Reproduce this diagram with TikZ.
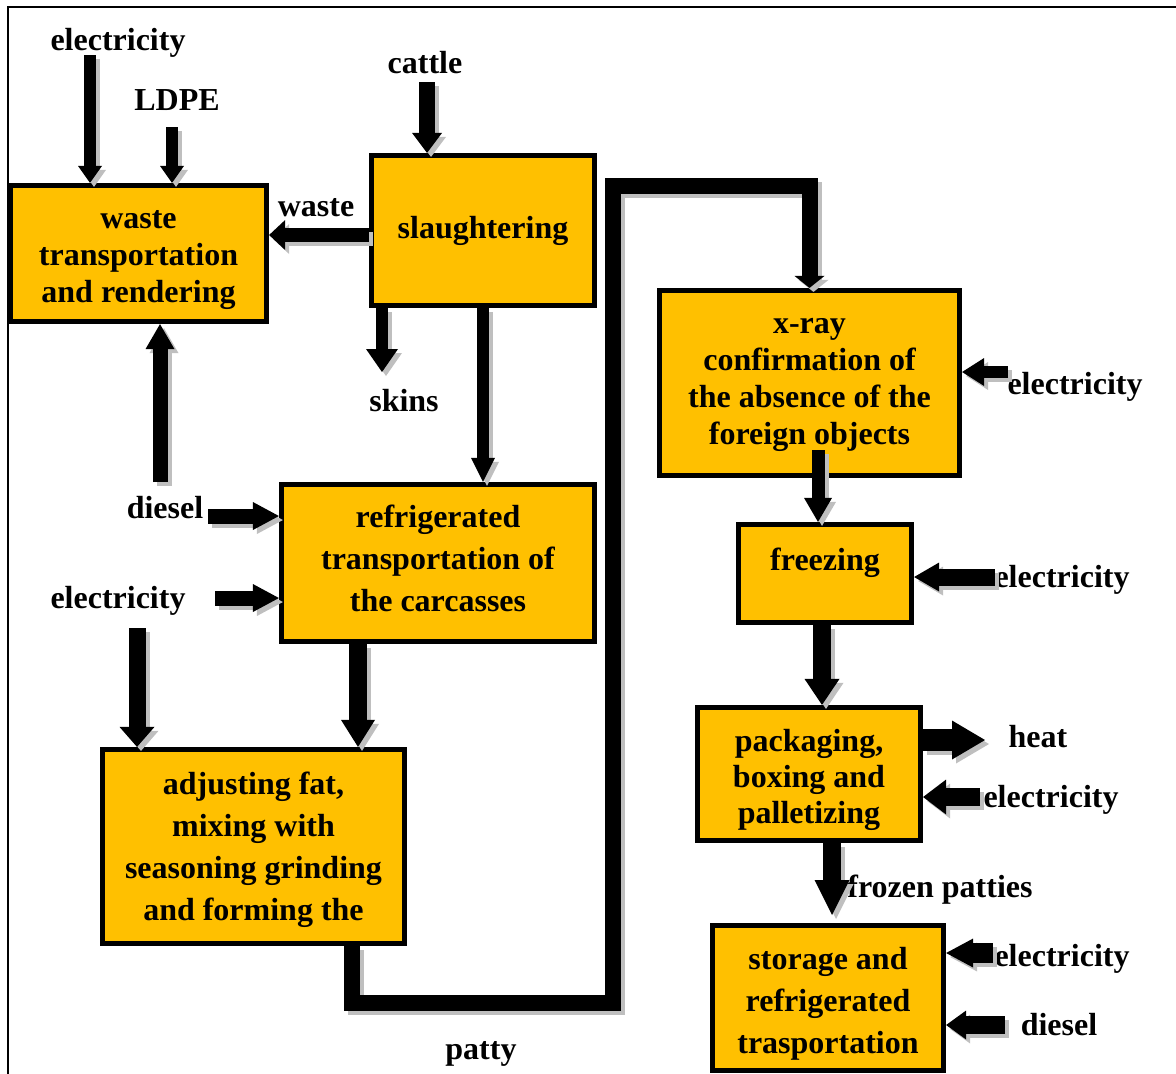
\documentclass[tikz,border=0pt]{standalone}
\usepackage{fontspec}
\setmainfont{Liberation Serif}
\usetikzlibrary{arrows.meta,calc}
\definecolor{gold}{RGB}{255,192,0}
\colorlet{flowc}{black}
\tikzset{
  lbl/.style={font=\bfseries\fontsize{16pt}{18.5pt}\selectfont, inner sep=0pt},
  proc/.style={draw=black, fill=gold, line width=2.6pt, inner sep=0pt},
  intext/.style={align=center, inner sep=0pt, font=\bfseries\fontsize{16pt}{#1}\selectfont},
  intext/.default=18.5pt,
  flow/.style n args={3}{draw=flowc, line width=#1, line join=miter,
    -{Triangle[width=#2,length=#3,line width=0pt]}},
}
% all material-flow connectors; drawn once offset in grey as a shadow, then in black
\newcommand\drawflows{%
\draw[flow={6pt}{12pt}{8.5pt}] (eA) -- (eA |- waste.north);
\draw[flow={6pt}{12pt}{8.5pt}] (ldA) -- (ldA |- waste.north);
\draw[flow={8pt}{15pt}{10pt}] (catA) -- (catA |- slau.north);
\draw[flow={7pt}{15pt}{8pt}] (slau.west |- wy) -- (waste.east |- wy);
\draw[flow={6pt}{16pt}{11.5pt}] (sk |- slau.south) -- (sk);
\draw[flow={6pt}{12pt}{12pt}] (slau.south) -- (slau.south |- refr.north);
\draw[flow={7.5pt}{14.5pt}{12.5pt}] (dA) -- (dA |- waste.south);
\draw[flow={7.5pt}{14pt}{13pt}] (dB) -- (dB -| refr.west);
\draw[flow={7.5pt}{14pt}{13pt}] (eB) -- (eB -| refr.west);
\draw[flow={8.5pt}{17.5pt}{10pt}] (eC) -- (eC |- adj.north);
\draw[flow={9pt}{17pt}{13.5pt}] (rk |- refr.south) -- (rk |- adj.north);
\draw[flow={8pt}{15pt}{6pt}] (p1 |- adj.south) -- (p1) -- (p1 -| p2) -- (p2)
  -- (p2 -| xray.north) -- (xray.north);
\draw[flow={6pt}{14pt}{11pt}] (eD) -- (eD -| xray.east);
\draw[flow={6.5pt}{14pt}{12pt}] (xf) -- (xf |- frz.north);
\draw[flow={8.5pt}{14.5pt}{12.5pt}] (eE) -- (eE -| frz.east);
\draw[flow={9pt}{17.5pt}{13pt}] (fp |- frz.south) -- (fp |- pack.north);
\draw[flow={11pt}{19.5pt}{16.5pt}] (ht -| pack.east) -- (ht);
\draw[flow={9pt}{17.5pt}{11.5pt}] (eF) -- (eF -| pack.east);
\draw[flow={9pt}{17.5pt}{17.5pt}] (ps |- pack.south) -- (ps);
\draw[flow={10pt}{14.5pt}{13.5pt}] (eG) -- (eG -| stor.east);
\draw[flow={9pt}{14.5pt}{10pt}] (dC) -- (dC -| stor.east);
}
\begin{document}
\begin{tikzpicture}[x=0.5pt,y=-0.5pt]
\useasboundingbox (0,0) rectangle (1176,1073);
% outer frame
\draw[line width=1pt] (8,1100) -- (8,7) -- (1200,7);

% process boxes
\node[proc, minimum width=128pt, minimum height=68pt,
  label={[intext, yshift=-3.5pt]center:{waste\\transportation\\and rendering}}]
  (waste) at (138.5,253.5) {};
\node[proc, minimum width=111.5pt, minimum height=75pt,
  label={[intext]center:{slaughtering}}] (slau) at (483,230.5) {};
\node[proc, minimum width=150pt, minimum height=92.5pt,
  label={[intext, yshift=-1pt]center:{x-ray\\confirmation of\\the absence of the\\foreign objects}}]
  (xray) at (809.5,383) {};
\node[proc, minimum width=156.5pt, minimum height=78.5pt,
  label={[intext=21pt, yshift=2.5pt]center:{refrigerated\\transportation of\\the carcasses}}]
  (refr) at (438,563) {};
\node[proc, minimum width=86.5pt, minimum height=49pt,
  label={[intext, yshift=5.5pt]center:{freezing}}] (frz) at (825,573.5) {};
\node[proc, minimum width=151pt, minimum height=97pt,
  label={[intext=21pt, yshift=-1.5pt]center:{adjusting fat,\\mixing with\\seasoning grinding\\and forming the}}]
  (adj) at (253.5,846.5) {};
\node[proc, minimum width=111.5pt, minimum height=66.5pt,
  label={[intext=18pt, yshift=-3pt]center:{packaging,\\boxing and\\palletizing}}]
  (pack) at (809,774) {};
\node[proc, minimum width=115.5pt, minimum height=72.5pt,
  label={[intext=21pt, yshift=-3pt]center:{storage and\\refrigerated\\trasportation}}]
  (stor) at (828,998) {};

% flow labels
\node[lbl] (lEl1) at (118,43) {electricity};
\node[lbl] (lLdpe) at (177,100) {LDPE};
\node[lbl] (lCat) at (425,63) {cattle};
\node[lbl] (lWaste) at (316,208) {waste};
\node[lbl] (lSkin) at (404,401) {skins};
\node[lbl] (lDie1) at (165,508) {diesel};
\node[lbl] (lEl2) at (118,601) {electricity};
\node[lbl] (lPat) at (481,1054) {patty};
\node[lbl] (lEl3) at (1075,387) {electricity};
\node[lbl] (lEl4) at (1062,580) {electricity};
\node[lbl] (lHeat) at (1038,737) {heat};
\node[lbl] (lEl5) at (1051,800) {electricity};
\node[lbl] (lFroz) at (940,890) {frozen patties};
\node[lbl] (lEl6) at (1062,959) {electricity};
\node[lbl] (lDie2) at (1059,1025) {diesel};

% arrow start and end points
\coordinate (eA) at (90,55);
\coordinate (ldA) at (172,127);
\coordinate (catA) at (427,82);
\coordinate (wy) at (0,235);
\coordinate (sk) at (382,372);
\coordinate (dA) at (160,482);
\coordinate (dB) at (208,516);
\coordinate (eB) at (215,598);
\coordinate (eC) at (137,628);
\coordinate (rk) at (358,0);
\coordinate (p1) at (352,1003);
\coordinate (p2) at (613,185.5);
\coordinate (eD) at (1008,372);
\coordinate (xf) at (818,450);
\coordinate (eE) at (995,577);
\coordinate (fp) at (822,0);
\coordinate (ht) at (985,740);
\coordinate (eF) at (980,797);
\coordinate (ps) at (832,915);
\coordinate (eG) at (993,953);
\coordinate (dC) at (1005,1025);

% connectors: grey shadow first, then the black arrows
\begin{scope}[transform canvas={shift={(2pt,-2pt)}}]
  \colorlet{flowc}{black!25}
  \drawflows
\end{scope}
\drawflows
\end{tikzpicture}
\end{document}
